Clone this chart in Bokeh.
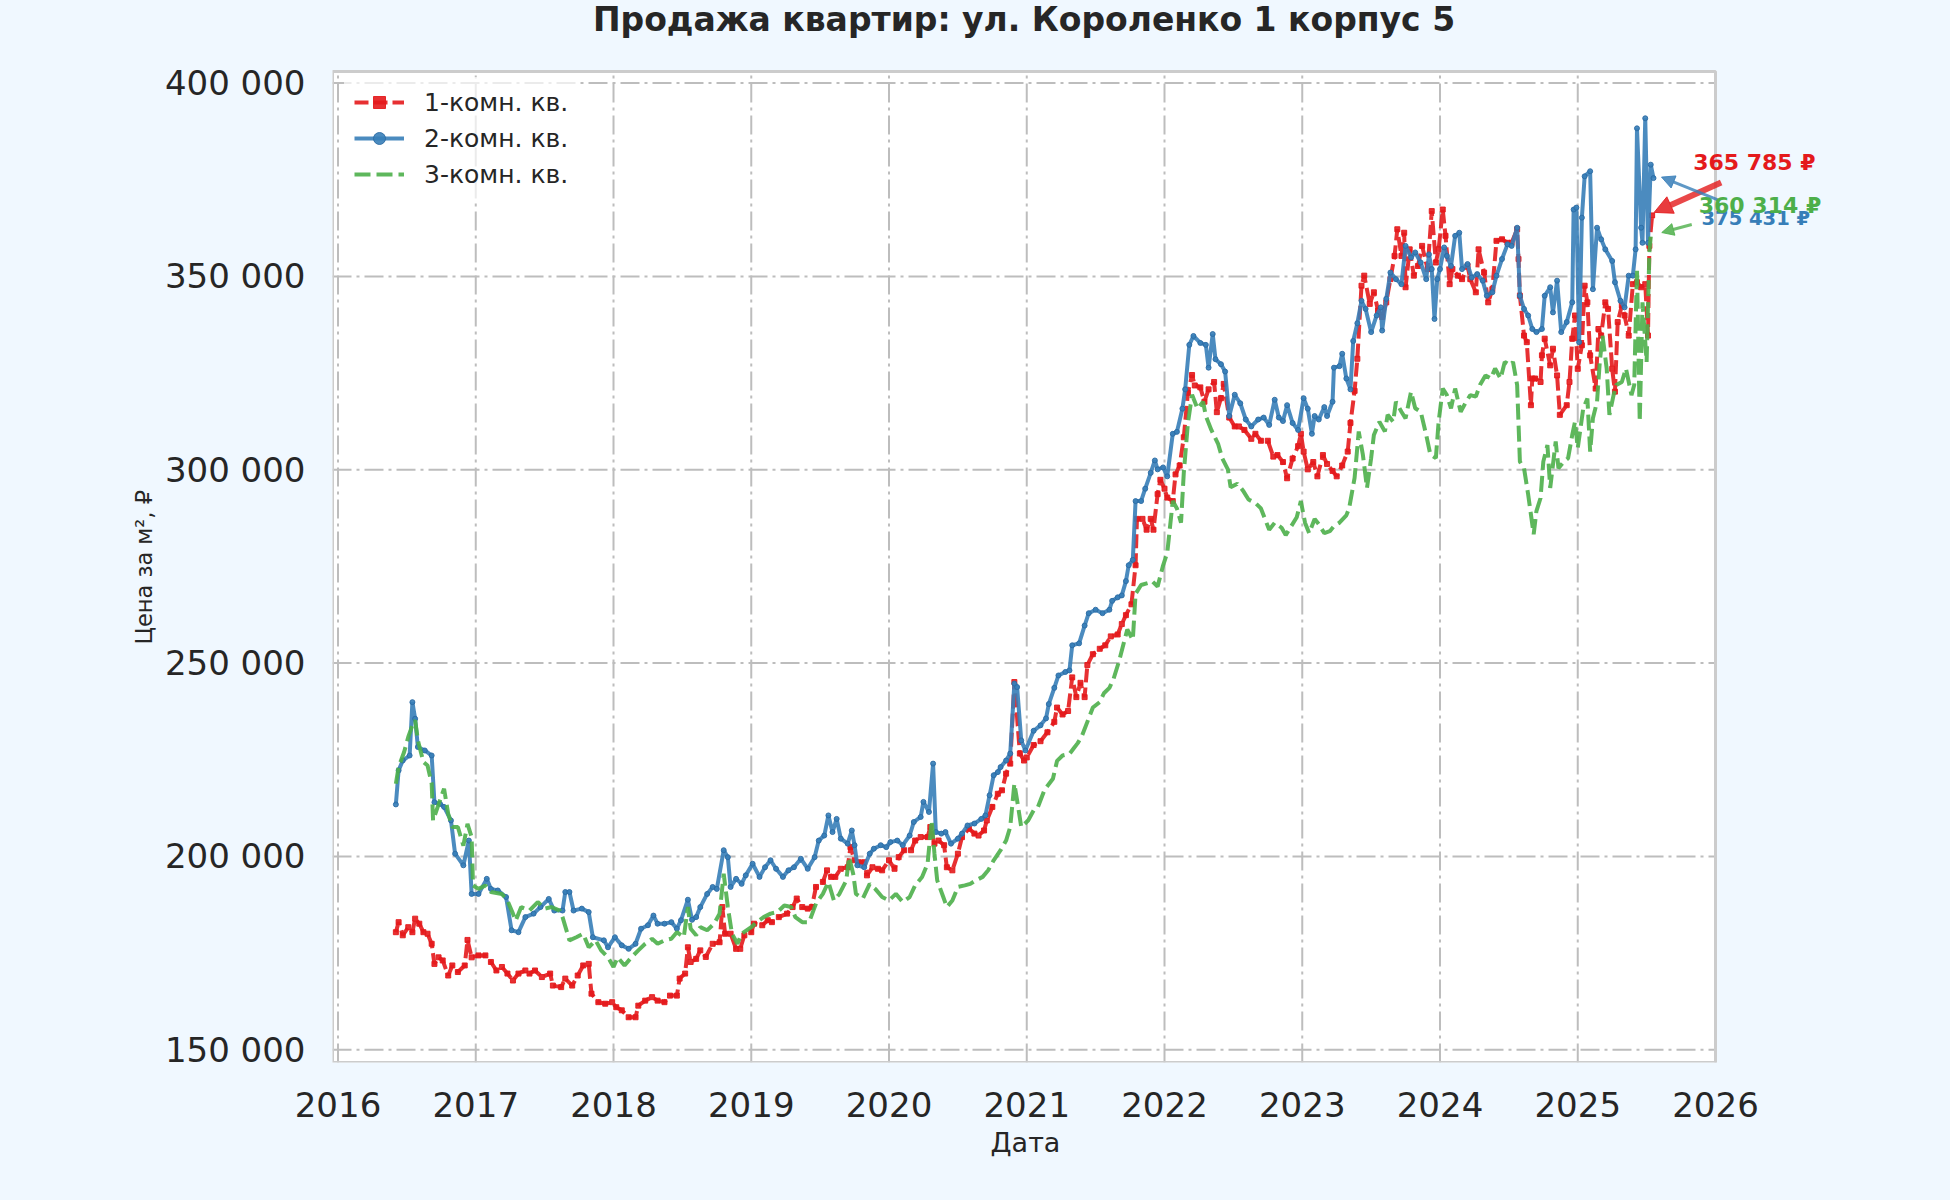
# Продажа квартир: цена за м2 по типам квартир (ул. Короленко 1 корпус 5)

from bokeh.plotting import figure
from bokeh.models import FixedTicker, Label, Arrow, NormalHead, Title
from bokeh.embed import file_html
from bokeh.resources import INLINE

FONT = "DejaVu Sans"
TEXT = "#262626"
RED, BLUE, GREEN = "#e41a1c", "#377eb8", "#4daf4a"

title = "Продажа квартир: ул. Короленко 1 корпус 5"
names = ["1-комн. кв.", "2-комн. кв.", "3-комн. кв."]
x_label = "Дата"
y_label = "Цена за м², ₽"
x_ticks = list(range(2016, 2027))
x_tick_labels = [str(t) for t in x_ticks]
y_ticks = [150000, 200000, 250000, 300000, 350000, 400000]
y_tick_labels = ["150 000", "200 000", "250 000", "300 000", "350 000", "400 000"]
last_labels = ["365 785 ₽", "375 431 ₽", "360 314 ₽"]

# 1-комн. кв. (дата в долях года, цена за м2)
yr1 = [
    2016.42, 2016.44, 2016.47, 2016.51, 2016.54, 2016.56, 2016.59, 2016.62, 2016.65, 2016.68,
    2016.70, 2016.73, 2016.76, 2016.80, 2016.83, 2016.87, 2016.92, 2016.94, 2016.97, 2017.02,
    2017.07, 2017.11, 2017.15, 2017.19, 2017.23, 2017.27, 2017.31, 2017.36, 2017.39, 2017.43,
    2017.48, 2017.54, 2017.56, 2017.62, 2017.65, 2017.70, 2017.74, 2017.78, 2017.82, 2017.84,
    2017.89, 2017.94, 2017.99, 2018.02, 2018.06, 2018.11, 2018.16, 2018.18, 2018.23, 2018.28,
    2018.32, 2018.37, 2018.41, 2018.46, 2018.48, 2018.52, 2018.54, 2018.56, 2018.60, 2018.63,
    2018.67, 2018.72, 2018.77, 2018.79, 2018.81, 2018.85, 2018.89, 2018.92, 2018.95, 2019.00,
    2019.02, 2019.08, 2019.12, 2019.15, 2019.20, 2019.26, 2019.30, 2019.33, 2019.37, 2019.41,
    2019.44, 2019.47, 2019.52, 2019.55, 2019.58, 2019.61, 2019.65, 2019.70, 2019.72, 2019.75,
    2019.78, 2019.82, 2019.84, 2019.88, 2019.92, 2019.95, 2020.00, 2020.04, 2020.07, 2020.11,
    2020.16, 2020.19, 2020.23, 2020.28, 2020.30, 2020.33, 2020.36, 2020.40, 2020.42, 2020.46,
    2020.50, 2020.53, 2020.58, 2020.62, 2020.65, 2020.69, 2020.71, 2020.75, 2020.79, 2020.82,
    2020.85, 2020.88, 2020.91, 2020.95, 2020.98, 2021.00, 2021.05, 2021.10, 2021.15, 2021.20,
    2021.22, 2021.26, 2021.30, 2021.33, 2021.36, 2021.39, 2021.42, 2021.44, 2021.48, 2021.53,
    2021.57, 2021.61, 2021.66, 2021.69, 2021.72, 2021.76, 2021.79, 2021.80, 2021.84, 2021.87,
    2021.90, 2021.92, 2021.95, 2021.97, 2022.00, 2022.02, 2022.06, 2022.08, 2022.11, 2022.14,
    2022.17, 2022.20, 2022.22, 2022.26, 2022.29, 2022.32, 2022.36, 2022.38, 2022.41, 2022.43,
    2022.47, 2022.51, 2022.54, 2022.58, 2022.63, 2022.66, 2022.70, 2022.75, 2022.79, 2022.82,
    2022.86, 2022.89, 2022.93, 2022.97, 2022.99, 2023.01, 2023.04, 2023.08, 2023.11, 2023.15,
    2023.18, 2023.22, 2023.25, 2023.29, 2023.33, 2023.35, 2023.38, 2023.40, 2023.43, 2023.45,
    2023.49, 2023.52, 2023.55, 2023.58, 2023.61, 2023.64, 2023.67, 2023.69, 2023.72, 2023.74,
    2023.75, 2023.78, 2023.81, 2023.84, 2023.87, 2023.91, 2023.94, 2023.97, 2023.99, 2024.02,
    2024.04, 2024.07, 2024.09, 2024.13, 2024.16, 2024.20, 2024.22, 2024.26, 2024.28, 2024.32,
    2024.35, 2024.38, 2024.41, 2024.45, 2024.49, 2024.52, 2024.56, 2024.57, 2024.58, 2024.61,
    2024.63, 2024.66, 2024.67, 2024.69, 2024.73, 2024.74, 2024.76, 2024.80, 2024.82, 2024.85,
    2024.87, 2024.92, 2024.94, 2024.96, 2024.98, 2025.00, 2025.03, 2025.05, 2025.07, 2025.09,
    2025.13, 2025.15, 2025.17, 2025.20, 2025.22, 2025.25, 2025.27, 2025.29, 2025.32, 2025.34,
    2025.37, 2025.40, 2025.43, 2025.46, 2025.49, 2025.51, 2025.52, 2025.54,
]
val1 = [
    180400, 183000, 179600, 181700, 180400, 183900, 182600, 180400, 180000, 177400,
    172200, 173900, 173100, 169200, 171800, 170100, 171800, 178400, 173900, 174400,
    174400, 172700, 170500, 171400, 169700, 167900, 169700, 170500, 169700, 170500,
    168800, 169700, 166600, 166200, 168400, 166600, 169200, 171800, 172200, 164500,
    162300, 161900, 162300, 161000, 160200, 158400, 158400, 161400, 162700, 163600,
    162700, 162300, 164000, 164000, 168400, 169700, 176500, 172700, 173500, 175700,
    174000, 177400, 177800, 186900, 180000, 180000, 176100, 176100, 179600, 180400,
    182600, 182200, 183500, 183000, 184300, 185200, 186900, 189100, 186900, 186500,
    186900, 192100, 193400, 196400, 194700, 194700, 196800, 197200, 202400, 199000,
    198500, 198500, 195100, 197200, 196800, 196400, 199000, 196800, 199800, 201600,
    201600, 204100, 205000, 205000, 207600, 203300, 204100, 202900, 197200, 196400,
    200700, 205000, 207200, 205900, 205400, 206700, 209300, 212800, 216200, 217100,
    221400, 224000, 245100, 226600, 224800, 225600, 228800, 229800, 232100, 234800,
    238500, 236700, 237600, 246300, 241200, 244900, 241200, 249500, 252300, 253700,
    254600, 256900, 257400, 260100, 262400, 265200, 275300, 287300, 287300, 284500,
    287300, 284500, 293700, 297400, 295100, 292800, 291900, 298800, 301100, 308400,
    319900, 324500, 321800, 321300, 317600, 320800, 322700, 314900, 318500, 322200,
    313500, 311200, 311200, 310300, 308000, 309300, 307500, 307500, 303400, 303800,
    302000, 297800, 302900, 306100, 309300, 304700, 300100, 302000, 298300, 303800,
    301500, 299700, 298300, 301100, 304700, 312100, 320400, 328700, 347600, 350200,
    342900, 345900, 341200, 339500, 343300, 349300, 355300, 362200, 355300, 361300,
    347200, 357000, 350200, 352700, 357900, 351900, 366900, 353600, 357000, 367300,
    360500, 348000, 351900, 350200, 349300, 352700, 349300, 345900, 357000, 351000,
    343300, 346700, 359200, 359600, 358700, 358700, 362200, 354500, 345000, 334700,
    333000, 316700, 323600, 323600, 322700, 329600, 333900, 327000, 331300, 324400,
    314200, 316700, 322700, 333900, 339900, 326100, 332200, 347600, 343300, 329600,
    321000, 336400, 334700, 343300, 341600, 326100, 320200, 338200, 342500, 339900,
    334700, 348000, 348500, 347200, 348000, 334700, 357900, 365785,
]

# 2-комн. кв.
yr2 = [
    2016.42, 2016.44, 2016.47, 2016.52, 2016.54, 2016.56, 2016.58, 2016.63, 2016.68, 2016.70,
    2016.74, 2016.77, 2016.82, 2016.85, 2016.91, 2016.95, 2016.97, 2017.02, 2017.08, 2017.11,
    2017.16, 2017.22, 2017.26, 2017.31, 2017.36, 2017.42, 2017.47, 2017.53, 2017.57, 2017.63,
    2017.65, 2017.68, 2017.71, 2017.77, 2017.82, 2017.85, 2017.93, 2017.96, 2018.01, 2018.06,
    2018.11, 2018.16, 2018.20, 2018.25, 2018.29, 2018.32, 2018.37, 2018.42, 2018.46, 2018.49,
    2018.54, 2018.57, 2018.60, 2018.63, 2018.68, 2018.72, 2018.75, 2018.80, 2018.83, 2018.85,
    2018.89, 2018.93, 2018.96, 2019.01, 2019.06, 2019.10, 2019.14, 2019.18, 2019.23, 2019.27,
    2019.31, 2019.36, 2019.41, 2019.46, 2019.49, 2019.53, 2019.56, 2019.59, 2019.62, 2019.65,
    2019.70, 2019.73, 2019.75, 2019.77, 2019.82, 2019.86, 2019.89, 2019.94, 2019.98, 2020.01,
    2020.06, 2020.10, 2020.15, 2020.18, 2020.23, 2020.25, 2020.29, 2020.32, 2020.34, 2020.38,
    2020.41, 2020.45, 2020.50, 2020.53, 2020.57, 2020.62, 2020.67, 2020.70, 2020.73, 2020.76,
    2020.79, 2020.81, 2020.85, 2020.88, 2020.91, 2020.93, 2020.96, 2020.99, 2021.05, 2021.10,
    2021.14, 2021.16, 2021.20, 2021.23, 2021.28, 2021.31, 2021.33, 2021.38, 2021.42, 2021.45,
    2021.50, 2021.55, 2021.60, 2021.62, 2021.66, 2021.69, 2021.72, 2021.74, 2021.77, 2021.79,
    2021.83, 2021.86, 2021.90, 2021.93, 2021.95, 2021.99, 2022.02, 2022.06, 2022.09, 2022.13,
    2022.15, 2022.18, 2022.21, 2022.26, 2022.30, 2022.32, 2022.35, 2022.37, 2022.41, 2022.44,
    2022.47, 2022.51, 2022.55, 2022.59, 2022.63, 2022.68, 2022.72, 2022.76, 2022.80, 2022.83,
    2022.86, 2022.89, 2022.93, 2022.97, 2023.01, 2023.04, 2023.07, 2023.09, 2023.12, 2023.16,
    2023.18, 2023.22, 2023.23, 2023.27, 2023.29, 2023.32, 2023.35, 2023.37, 2023.40, 2023.43,
    2023.46, 2023.50, 2023.54, 2023.57, 2023.58, 2023.61, 2023.64, 2023.68, 2023.72, 2023.75,
    2023.79, 2023.82, 2023.86, 2023.90, 2023.92, 2023.94, 2023.96, 2023.98, 2024.00, 2024.03,
    2024.05, 2024.08, 2024.11, 2024.14, 2024.16, 2024.20, 2024.23, 2024.27, 2024.31, 2024.34,
    2024.38, 2024.41, 2024.45, 2024.49, 2024.52, 2024.56, 2024.58, 2024.61, 2024.64, 2024.67,
    2024.70, 2024.74, 2024.76, 2024.80, 2024.82, 2024.85, 2024.88, 2024.92, 2024.96, 2024.97,
    2024.99, 2025.01, 2025.03, 2025.05, 2025.09, 2025.11, 2025.14, 2025.17, 2025.20, 2025.25,
    2025.27, 2025.31, 2025.34, 2025.37, 2025.40, 2025.42, 2025.43, 2025.46, 2025.47, 2025.49,
    2025.51, 2025.53, 2025.55,
]
val2 = [
    213450, 222250, 224800, 226100, 239900, 235600, 228300, 227400, 226100, 214000,
    213600, 212800, 209300, 200700, 197700, 204100, 190300, 190300, 194200, 191600,
    191200, 189500, 180900, 180400, 184300, 185200, 186900, 189000, 186000, 186000,
    190800, 190800, 186000, 186500, 185600, 179100, 178300, 176500, 179100, 177000,
    176100, 177400, 181300, 182200, 184700, 182600, 182600, 183000, 181300, 183500,
    188800, 183600, 184300, 186900, 190300, 192100, 191600, 201600, 199800, 192100,
    194200, 192900, 195100, 198100, 194700, 197200, 199000, 196800, 194700, 196400,
    197200, 199400, 196800, 199800, 204100, 205400, 210600, 206300, 209700, 204600,
    203300, 206700, 202900, 197700, 197200, 200700, 202000, 202900, 202400, 203700,
    204100, 202900, 205400, 208900, 210200, 214100, 211500, 224000, 206300, 205900,
    206300, 203300, 204600, 205900, 208000, 208500, 209700, 210600, 215800, 221000,
    221800, 223100, 224800, 226600, 244700, 243800, 230000, 227400, 232500, 233900,
    235700, 239400, 243600, 246800, 247700, 248100, 254600, 255100, 259700, 262900,
    263800, 262900, 263800, 266100, 267000, 267500, 271200, 275300, 276700, 291900,
    291900, 295100, 299200, 302400, 300100, 300600, 298300, 309300, 309800, 315800,
    320800, 332300, 334600, 332800, 332300, 326400, 335100, 328600, 327300, 325400,
    313900, 319400, 317200, 313000, 311200, 313000, 313500, 311600, 318100, 313500,
    312600, 316700, 312100, 310300, 318500, 315800, 309300, 313900, 313000, 316200,
    313900, 317600, 326400, 326800, 330000, 323600, 320800, 333300, 337900, 343700,
    341600, 335600, 339900, 342000, 336000, 344200, 351000, 349300, 348000, 357900,
    354900, 356200, 353600, 349300, 355700, 351900, 339000, 349300, 351900, 357500,
    355300, 352700, 360500, 361300, 351900, 353200, 349700, 350600, 348900, 345000,
    345900, 350200, 354500, 358300, 357900, 362600, 345000, 341600, 339900, 336400,
    335600, 336400, 345000, 347200, 340700, 348900, 335600, 338200, 343300, 367300,
    367800, 333000, 365200, 375900, 377200, 346700, 362600, 359600, 357000, 354000,
    348500, 343700, 342000, 350200, 350200, 357000, 388300, 362600, 358700, 390900,
    358700, 378900, 375431,
]

# 3-комн. кв.
yr3 = [
    2016.42, 2016.44, 2016.48, 2016.51, 2016.54, 2016.56, 2016.58, 2016.62, 2016.65, 2016.68,
    2016.69, 2016.74, 2016.77, 2016.80, 2016.83, 2016.87, 2016.91, 2016.94, 2016.97, 2016.98,
    2017.02, 2017.07, 2017.11, 2017.19, 2017.23, 2017.27, 2017.29, 2017.33, 2017.39, 2017.45,
    2017.50, 2017.55, 2017.61, 2017.63, 2017.68, 2017.73, 2017.78, 2017.82, 2017.87, 2017.91,
    2017.96, 2018.00, 2018.03, 2018.08, 2018.13, 2018.18, 2018.23, 2018.28, 2018.32, 2018.37,
    2018.42, 2018.46, 2018.51, 2018.54, 2018.56, 2018.60, 2018.63, 2018.68, 2018.73, 2018.77,
    2018.80, 2018.83, 2018.86, 2018.90, 2018.93, 2019.00, 2019.04, 2019.09, 2019.14, 2019.19,
    2019.24, 2019.29, 2019.32, 2019.37, 2019.42, 2019.47, 2019.52, 2019.56, 2019.60, 2019.64,
    2019.69, 2019.71, 2019.74, 2019.76, 2019.81, 2019.86, 2019.90, 2019.95, 2020.00, 2020.05,
    2020.10, 2020.15, 2020.19, 2020.24, 2020.28, 2020.31, 2020.33, 2020.35, 2020.39, 2020.42,
    2020.46, 2020.50, 2020.55, 2020.59, 2020.63, 2020.68, 2020.72, 2020.76, 2020.81, 2020.85,
    2020.88, 2020.91, 2020.93, 2020.96, 2021.01, 2021.05, 2021.08, 2021.13, 2021.19, 2021.22,
    2021.26, 2021.31, 2021.34, 2021.37, 2021.40, 2021.44, 2021.48, 2021.53, 2021.56, 2021.60,
    2021.63, 2021.67, 2021.71, 2021.73, 2021.77, 2021.79, 2021.83, 2021.88, 2021.91, 2021.95,
    2021.99, 2022.02, 2022.06, 2022.09, 2022.12, 2022.14, 2022.17, 2022.20, 2022.24, 2022.28,
    2022.30, 2022.34, 2022.39, 2022.42, 2022.46, 2022.48, 2022.53, 2022.57, 2022.61, 2022.66,
    2022.70, 2022.74, 2022.76, 2022.80, 2022.85, 2022.88, 2022.92, 2022.96, 2022.99, 2023.02,
    2023.05, 2023.09, 2023.12, 2023.16, 2023.20, 2023.23, 2023.27, 2023.32, 2023.34, 2023.38,
    2023.41, 2023.44, 2023.47, 2023.50, 2023.52, 2023.56, 2023.60, 2023.62, 2023.66, 2023.68,
    2023.72, 2023.75, 2023.79, 2023.82, 2023.86, 2023.90, 2023.93, 2023.97, 2023.99, 2024.02,
    2024.05, 2024.08, 2024.11, 2024.15, 2024.19, 2024.22, 2024.26, 2024.29, 2024.33, 2024.37,
    2024.40, 2024.44, 2024.47, 2024.51, 2024.53, 2024.56, 2024.58, 2024.61, 2024.64, 2024.68,
    2024.70, 2024.73, 2024.75, 2024.78, 2024.80, 2024.84, 2024.86, 2024.90, 2024.93, 2024.96,
    2024.98, 2025.00, 2025.04, 2025.07, 2025.09, 2025.11, 2025.14, 2025.16, 2025.18, 2025.21,
    2025.23, 2025.26, 2025.28, 2025.32, 2025.35, 2025.39, 2025.41, 2025.43, 2025.45, 2025.47,
    2025.50, 2025.52, 2025.53,
]
val3 = [
    218800, 223100, 227000, 230900, 233900, 235200, 230000, 224400, 223500, 218800,
    209300, 214500, 217500, 211000, 207600, 207600, 202800, 208400, 205000, 192500,
    191600, 192500, 190800, 190300, 188600, 185200, 183400, 186900, 186000, 188200,
    186500, 186900, 186000, 184300, 178300, 179100, 180000, 176500, 178300, 175700,
    173900, 171400, 173900, 171800, 173900, 175700, 177400, 178700, 177400, 178300,
    178700, 180400, 179100, 186900, 181300, 179600, 181700, 180900, 182600, 185200,
    195500, 186900, 180000, 177400, 180000, 181700, 183000, 184300, 185200, 185600,
    187300, 186900, 184300, 183000, 183000, 187800, 190300, 193400, 188600, 190300,
    193800, 199800, 195500, 190300, 189100, 192900, 191600, 189500, 188600, 190300,
    188200, 189500, 192500, 194700, 198100, 209300, 200700, 193800, 189900, 186900,
    188600, 192100, 192500, 192900, 193800, 194700, 196400, 199000, 201600, 204100,
    207600, 218800, 214500, 207600, 209300, 211900, 212700, 217300, 220100, 224700,
    226100, 226500, 227900, 229300, 231100, 234800, 238500, 239900, 242200, 243600,
    245900, 250500, 256000, 258700, 256000, 267900, 270200, 270700, 271200, 269800,
    275300, 278500, 291900, 290000, 286300, 299200, 312100, 319400, 315800, 317600,
    313900, 310300, 306600, 302900, 300100, 295500, 296400, 294600, 292300, 291400,
    290000, 286300, 284500, 286300, 285000, 283100, 285400, 287700, 291900, 286300,
    283600, 287300, 285900, 283600, 284100, 285400, 286300, 288200, 290000, 297900,
    309900, 303900, 295300, 303000, 309000, 312400, 309900, 314200, 312400, 317600,
    315000, 313300, 320200, 315900, 315000, 309000, 303900, 303000, 312400, 321000,
    319300, 315900, 321000, 315000, 317600, 319300, 318900, 321900, 324400, 323600,
    326200, 323600, 327900, 327000, 327900, 321900, 302100, 300400, 293600, 283300,
    289300, 292700, 302100, 306400, 295300, 307300, 300400, 302100, 303000, 309000,
    312400, 305600, 315900, 318400, 304700, 313300, 317600, 327900, 334700, 326200,
    314200, 319300, 321900, 322700, 326200, 319300, 321900, 351900, 312400, 343300,
    327900, 356200, 360314,
]

# plot area (the drawn box) and page geometry in pixels
X_START, X_END = 2015.96, 2026.0
Y_START, Y_END = 146700, 403000
W, H = 1950, 1200
BOX_L, BOX_T, BOX_W, BOX_H = 332, 71, 1383, 991
EXTRA_R = 125  # room right of the box for the end labels

PX_X = BOX_W / (X_END - X_START)
PX_Y = BOX_H / (Y_END - Y_START)

# the bokeh frame spans the box plus the space above it and on its right,
# so that the title and end labels are not clipped
p = figure(
    width=W,
    height=H,
    x_range=(X_START, X_END + EXTRA_R / PX_X),
    y_range=(Y_START, Y_END + BOX_T / PX_Y),
    min_border_left=BOX_L,
    min_border_right=W - BOX_L - BOX_W - EXTRA_R,
    min_border_top=0,
    min_border_bottom=H - BOX_T - BOX_H,
    output_backend="svg",
    toolbar_location=None,
    tools="",
)
p.border_fill_color = "#f0f8ff"
p.background_fill_color = "#f0f8ff"
p.outline_line_color = None
p.grid.visible = False


def shift(x, y, dx, dy):
    return x + dx / PX_X, y + dy / PX_Y


# white plot box, grid, border
p.quad(left=[X_START], right=[X_END], bottom=[Y_START], top=[Y_END],
       fill_color="white", line_color=None, level="image")
grid = dict(line_color="#bdbdbd", line_width=2, line_dash="19 5 3 5", level="underlay")
p.segment(x0=x_ticks, x1=x_ticks, y0=Y_START, y1=Y_END, **grid)
p.segment(x0=X_START, x1=X_END, y0=y_ticks, y1=y_ticks, **grid)
p.quad(left=[X_START], right=[X_END], bottom=[Y_START], top=[Y_END],
       fill_color=None, line_color="#cccccc", line_width=3, level="underlay")

# axes
p.xaxis.ticker = FixedTicker(ticks=x_ticks)
p.xaxis.major_label_overrides = dict(zip(x_ticks, x_tick_labels))
p.yaxis.ticker = FixedTicker(ticks=y_ticks)
p.yaxis.major_label_overrides = dict(zip(y_ticks, y_tick_labels))
for ax in (p.xaxis, p.yaxis):
    ax.axis_line_color = None
    ax.major_tick_line_color = None
    ax.minor_tick_line_color = None
    ax.major_label_text_font = FONT
    ax.major_label_text_font_size = "34px"
    ax.major_label_text_color = TEXT
p.xaxis.major_label_standoff = 23
p.yaxis.major_label_standoff = 21

# axis titles, placed against the box rather than the wider frame
p.add_layout(Title(text=x_label, align="left", offset=658,
                   text_font=FONT, text_font_size="27px", text_font_style="normal",
                   text_color=TEXT), "below")
p.add_layout(Title(text=y_label, align="left", offset=418,
                   text_font=FONT, text_font_size="22.5px", text_font_style="normal",
                   text_color=TEXT), "left")

# series
p.line(yr1, val1, color=RED, line_width=4, line_dash="14 5", alpha=0.9, legend_label=names[0])
p.scatter(yr1, val1, marker="square", size=5, color=RED, alpha=0.9, legend_label=names[0])
p.line(yr2, val2, color=BLUE, line_width=4, alpha=0.9, legend_label=names[1])
p.scatter(yr2, val2, marker="circle", size=5, fill_color=BLUE, line_color="#2b6aa3",
          alpha=0.9, legend_label=names[1])
p.line(yr3, val3, color=GREEN, line_width=4, line_dash="16 6", alpha=0.9, legend_label=names[2])

leg = p.legend[0]
leg.location = (12, BOX_H - 128)
leg.label_text_font = FONT
leg.label_text_font_size = "25px"
leg.label_text_color = TEXT
leg.glyph_width = 50
leg.glyph_height = 30
leg.label_standoff = 20
leg.spacing = 6
leg.padding = 10
leg.margin = 0
leg.background_fill_color = "white"
leg.background_fill_alpha = 0.7
leg.border_line_alpha = 0

# title
p.add_layout(Label(
    x=(X_START + X_END) / 2, y=Y_END, y_offset=52, text=title,
    text_align="center", text_baseline="middle", text_font=FONT,
    text_font_size="33px", text_font_style="bold", text_color=TEXT,
))

# last-value labels with arrows
ends = [
    (yr1[-1], val1[-1], RED, last_labels[0], (41, 53), "22px", (69, 33), (2, 3), 6, 18),
    (yr2[-1], val2[-1], BLUE, last_labels[1], (48, -40), "19.5px", (65, -22), (8, 1), 3, 13),
    (yr3[-1], val3[-1], GREEN, last_labels[2], (48, 31), "22px", (41, 12), (11, 4), 3, 12),
]
for x, y, col, txt, t_off, size, a_start, a_end, lw, hs in ends:
    xs, ys = shift(x, y, *a_start)
    xe, ye = shift(x, y, *a_end)
    p.add_layout(Arrow(
        end=NormalHead(size=hs, fill_color=col, line_color=col, fill_alpha=0.85, line_alpha=0.85),
        x_start=xs, y_start=ys, x_end=xe, y_end=ye,
        line_color=col, line_width=lw, line_alpha=0.8,
    ))
    p.add_layout(Label(
        x=x, y=y, x_offset=t_off[0], y_offset=t_off[1], text=txt,
        text_align="left", text_baseline="middle", text_font=FONT,
        text_font_size=size, text_font_style="bold", text_color=col,
    ))

page = """
{% block postamble %}
<style>html, body { margin: 0; padding: 0; background: #f0f8ff; }</style>
{% endblock %}
"""

open("out.html", "w").write(file_html(p, INLINE, template=page))
